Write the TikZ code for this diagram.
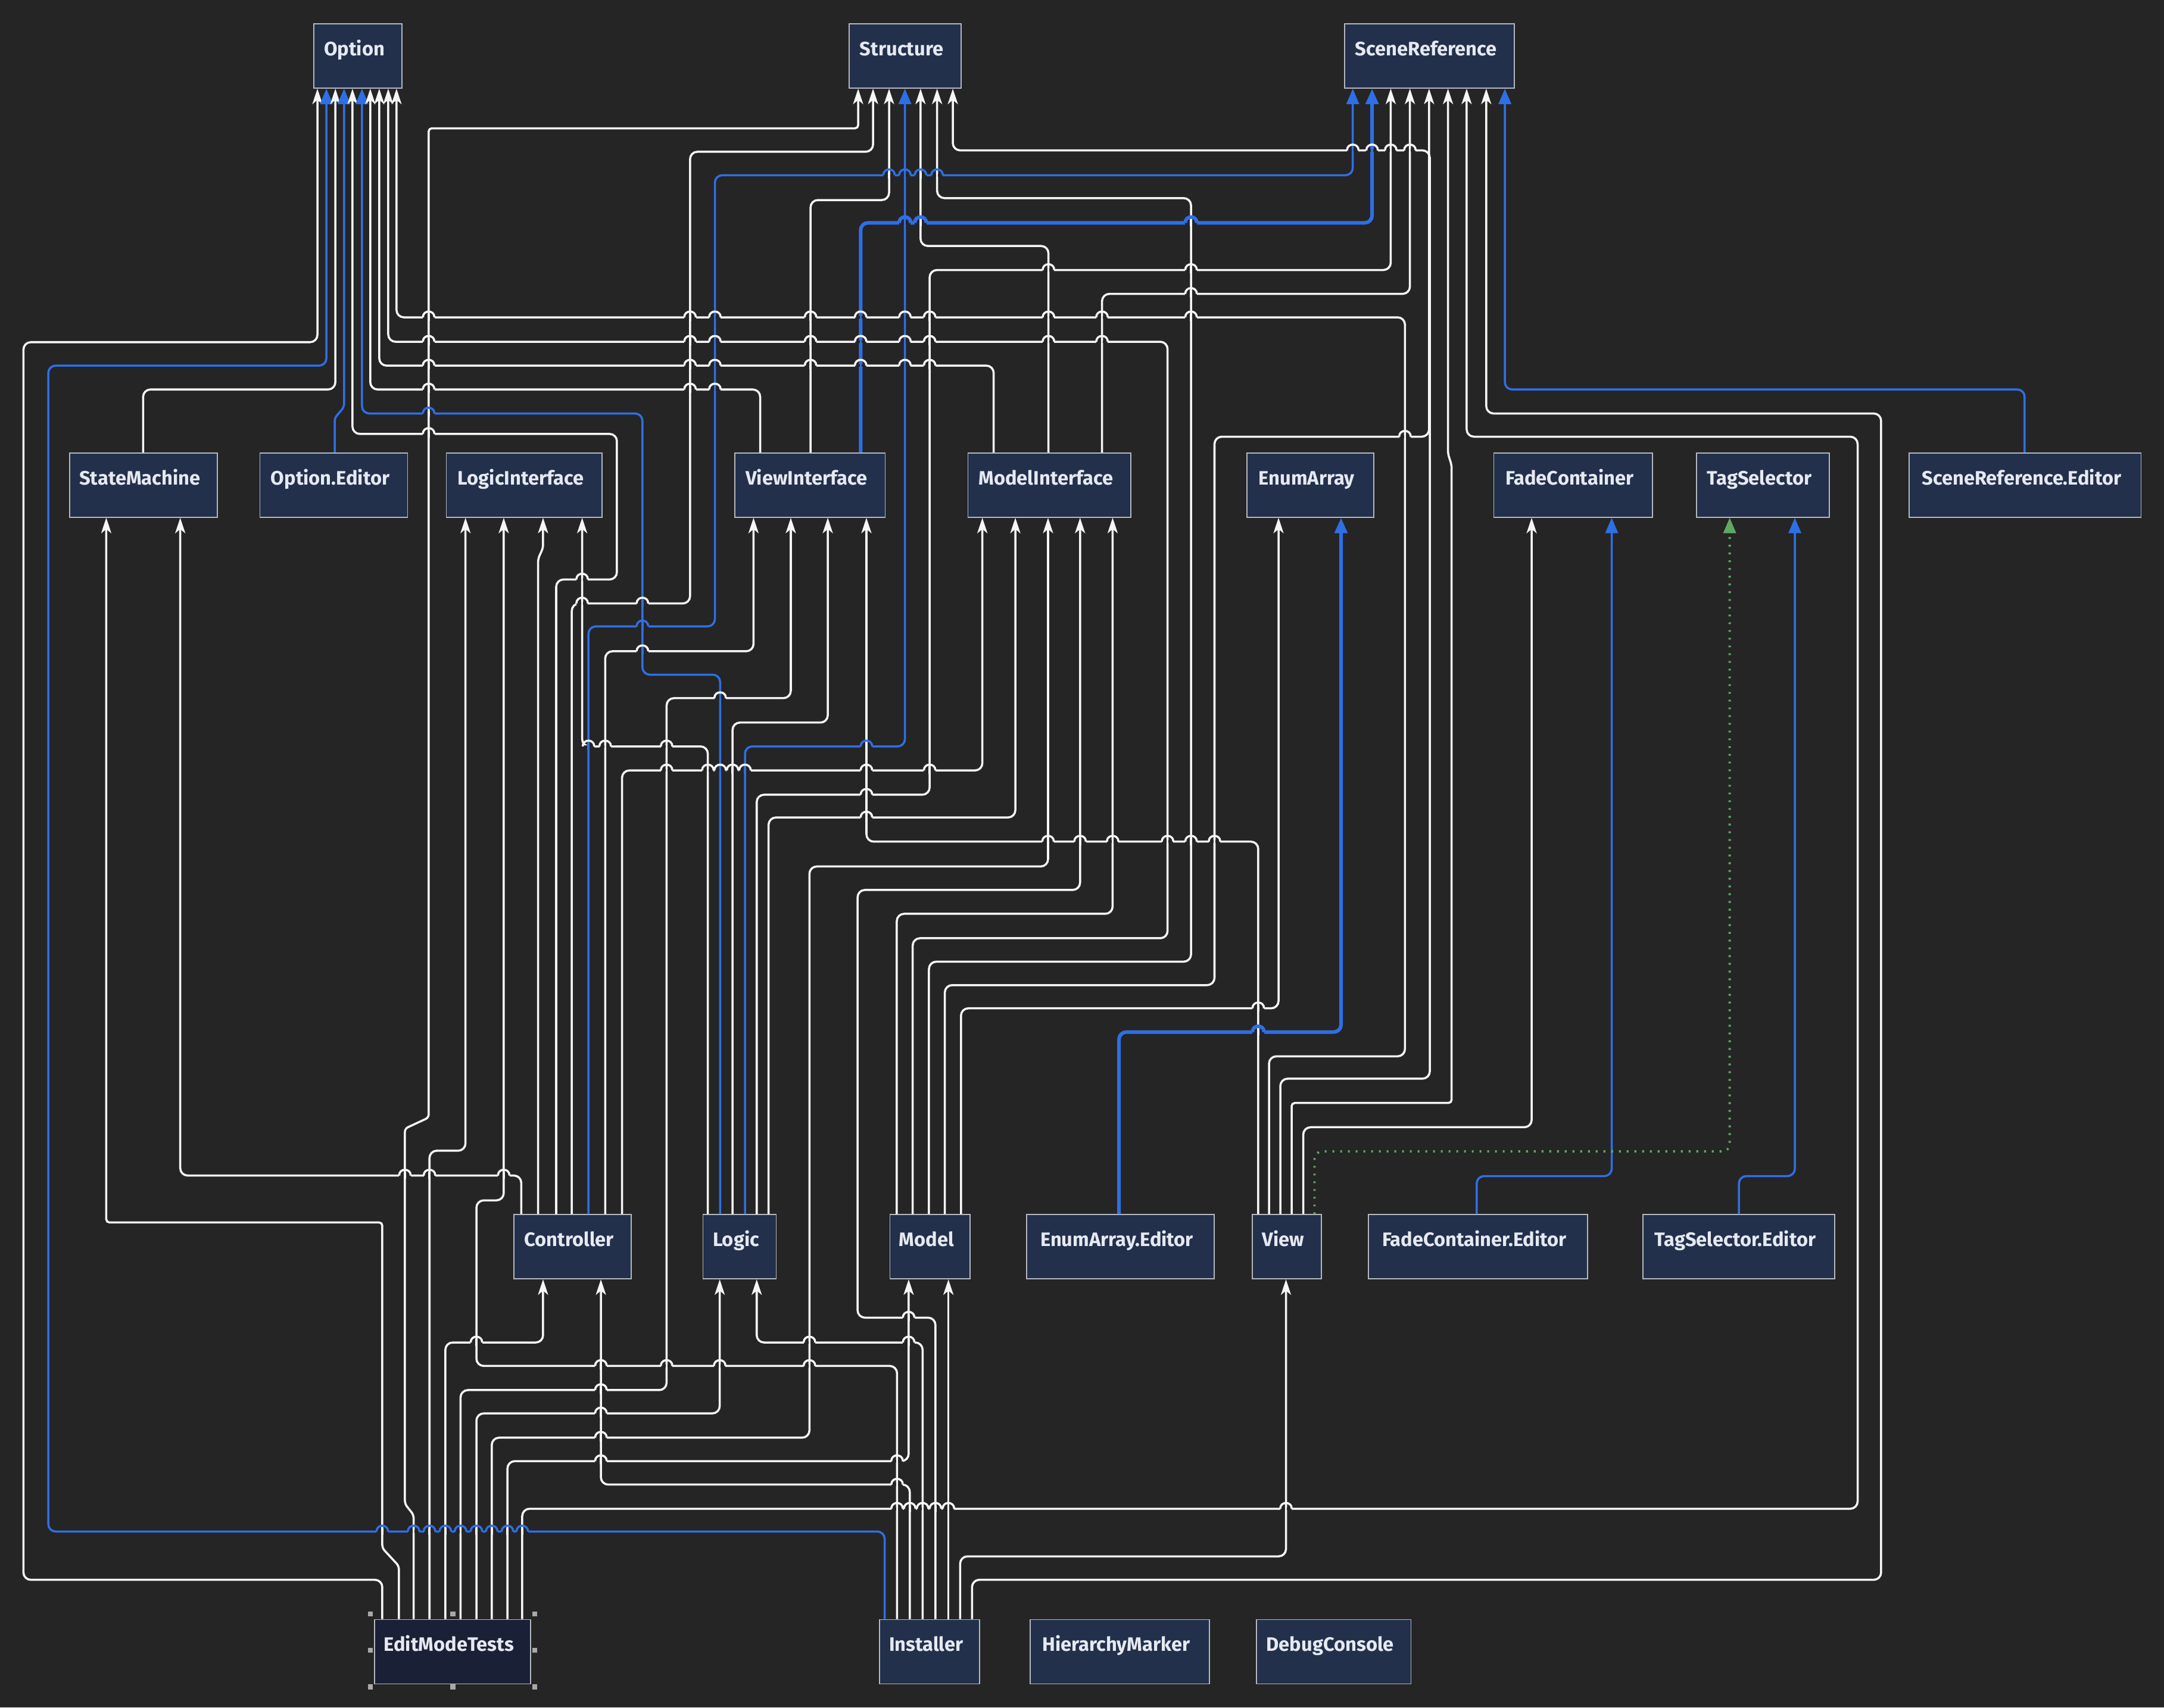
\documentclass[tikz,border=0pt]{standalone}
\usepackage{fontspec}
\setmainfont{Fira Sans}
\usetikzlibrary{arrows.meta}
\definecolor{bgc}{HTML}{252525}
\definecolor{boxfill}{HTML}{22304C}
\definecolor{selfill}{HTML}{1A2036}
\definecolor{boxline}{HTML}{B4B8C0}
\definecolor{txt}{HTML}{E6E9F0}
\definecolor{bl}{HTML}{2F6FE6}
\definecolor{gr}{HTML}{5FA863}
\definecolor{wl}{HTML}{F6F6F6}
\definecolor{hdl}{HTML}{A8A8A8}
\newcommand\hop[5]{%
  \draw[bgc, line width=#5+0.3pt] ({#1-4.2},#2) -- ({#1+4.2},#2);
  \draw[#4, line width=1pt] (#1,{#2-2.5}) -- (#1,{#2+2.5});
  \draw[#3, line width=#5] ({#1-4.2},#2) .. controls ({#1-4.2},{#2-5.6}) and ({#1+4.2},{#2-5.6}) .. ({#1+4.2},#2);
}
\newcommand\hw[2]{\hop{#1}{#2}{wl}{wl}{1pt}}
\newcommand\hwb[2]{\hop{#1}{#2}{wl}{bl}{1pt}}
\newcommand\hbw[2]{\hop{#1}{#2}{bl}{wl}{1pt}}
\newcommand\hbb[2]{\hop{#1}{#2}{bl}{bl}{1pt}}
\newcommand\hTw[2]{\hop{#1}{#2}{bl}{wl}{1.7pt}}
\newcommand\hTb[2]{\hop{#1}{#2}{bl}{bl}{1.7pt}}
\newcommand\lbl[1]{#1\kern0.12cm}
\begin{document}
\begin{tikzpicture}[x=0.023176cm, y=-0.023176cm,
  box/.style={draw=boxline, fill=boxfill, line width=0.5pt, text=txt,
    font=\bfseries\fontsize{9.3pt}{11pt}\selectfont, inner sep=0pt,
    text height=0.533cm, text depth=0.545cm, anchor=north west,
    minimum width={(#1)*0.023176cm}},
  wedge/.style={draw=wl, line width=1pt, rounded corners=3.5pt,
    -{Stealth[length=0.26cm,width=0.17cm,inset=0.07cm]}},
  bedge/.style={draw=bl, line width=1pt, rounded corners=3.5pt,
    -{Triangle[length=0.26cm,width=0.21cm]}},
  bthick/.style={bedge, line width=1.7pt},
  gedge/.style={draw=gr, line width=1.1pt, rounded corners=3.5pt,
    dash pattern=on 0.9pt off 2.8pt, -{Triangle[length=0.26cm,width=0.21cm]}},
  handle/.style={fill=hdl, draw=none}
]
\useasboundingbox (0,0) rectangle (1568,1237.5);
\fill[bgc] (0,0) rectangle (1568,1237.5);

% nodes
\node[box=64] (opt) at (227,17) {\lbl{Option}};
\node[box=81] (strc) at (615,17) {\lbl{Structure}};
\node[box=123] (sref) at (974,17) {\lbl{SceneReference}};
\node[box=107] (sm) at (50,328) {\lbl{StateMachine}};
\node[box=107] (oped) at (188,328) {\lbl{Option.Editor}};
\node[box=113] (lif) at (323,328) {\lbl{LogicInterface}};
\node[box=109] (vif) at (532,328) {\lbl{ViewInterface}};
\node[box=118] (mif) at (701,328) {\lbl{ModelInterface}};
\node[box=92] (earr) at (903,328) {\lbl{EnumArray}};
\node[box=115] (fcon) at (1082,328) {\lbl{FadeContainer}};
\node[box=96] (tsel) at (1229,328) {\lbl{TagSelector}};
\node[box=168] (sred) at (1383,328) {\lbl{SceneReference.Editor}};
\node[box=85] (ctrl) at (372,880) {\lbl{Controller}};
\node[box=53] (lgc) at (509,880) {\lbl{Logic}};
\node[box=58] (mdl) at (644.5,880) {\lbl{Model}};
\node[box=136] (eaed) at (743.5,880) {\lbl{EnumArray.Editor}};
\node[box=50] (view) at (907,880) {\lbl{View}};
\node[box=159] (fced) at (991,880) {\lbl{FadeContainer.Editor}};
\node[box=139] (tsed) at (1190,880) {\lbl{TagSelector.Editor}};
\node[box=113, fill=selfill] (emt) at (271,1173.5) {\lbl{EditModeTests}};
\node[box=72.5] (inst) at (637,1173.5) {\lbl{Installer}};
\node[box=130] (hmk) at (746,1173.5) {\lbl{HierarchyMarker}};
\node[box=112] (dcon) at (910,1173.5) {\lbl{DebugConsole}};

% selection handles
\foreach \hx in {268.3,328.2,387.4}{
  \foreach \hy in {1169.6,1222.6}{\fill[handle] ({\hx-1.8},{\hy-1.8}) rectangle ({\hx+1.8},{\hy+1.8});}}
\foreach \hx in {268.3,387.4}{\fill[handle] ({\hx-1.8},{1196-1.8}) rectangle ({\hx+1.8},{1196+1.8});}

% edges into Option
\draw[wedge] (emt.north -| 277,0) -- (277,1145) -- (17,1145) -- (17,248) -- (230,248) -- (opt.south -| 230,0);
\draw[bedge] (inst.north -| 641,0) -- (641,1110) -- (35,1110) -- (35,265) -- (236.5,265) -- (opt.south -| 236.5,0);
\draw[wedge] (sm.north -| 103.7,0) -- (103.7,282.3) -- (243,282.3) -- (opt.south -| 243,0);
\draw[bedge, rounded corners=1.5pt] (oped.north -| 242.5,0) -- (242.5,303) -- (249.3,295) -- (opt.south -| 249.3,0);
\draw[wedge] (ctrl.north -| 403,0) -- (403,420) -- (447,420) -- (447,314.5) -- (255.4,314.5) -- (opt.south -| 255.4,0);
\draw[bedge] (lgc.north -| 521.8,0) -- (521.8,489) -- (465.5,489) -- (465.5,299.7) -- (262.3,299.7) -- (opt.south -| 262.3,0);
\draw[wedge] (vif.north -| 550.8,0) -- (550.8,282.3) -- (268.3,282.3) -- (opt.south -| 268.3,0);
\draw[wedge] (mif.north -| 720,0) -- (720,265) -- (274.8,265) -- (opt.south -| 274.8,0);
\draw[wedge] (mdl.north -| 661.3,0) -- (661.3,680) -- (846,680) -- (846,247.7) -- (281.3,247.7) -- (opt.south -| 281.3,0);
\draw[wedge] (view.north -| 919.5,0) -- (919.5,765.6) -- (1018,765.6) -- (1018,230) -- (287.3,230) -- (opt.south -| 287.3,0);

% edges into Structure
\draw[wedge, rounded corners=1.5pt] (emt.north -| 299.7,0) -- (299.7,1098) -- (293.4,1090) -- (293.4,818) -- (310.6,810) -- (310.6,93) -- (621.8,93) -- (strc.south -| 621.8,0);
\draw[wedge] (ctrl.north -| 414.3,0) -- (414.3,437.4) -- (500,437.4) -- (500,110) -- (632.6,110) -- (strc.south -| 632.6,0);
\draw[wedge] (vif.north -| 587.3,0) -- (587.3,145) -- (644.2,145) -- (strc.south -| 644.2,0);
\draw[bedge] (lgc.north -| 539.8,0) -- (539.8,541) -- (655.7,541) -- (strc.south -| 655.7,0);
\draw[wedge] (mif.north -| 759.7,0) -- (759.7,178.3) -- (667,178.3) -- (strc.south -| 667,0);
\draw[wedge] (mdl.north -| 673.1,0) -- (673.1,697) -- (863,697) -- (863,143.6) -- (679,143.6) -- (strc.south -| 679,0);
\draw[wedge] (view.north -| 927.7,0) -- (927.7,781.8) -- (1036,781.8) -- (1036,109) -- (690.4,109) -- (strc.south -| 690.4,0);

% edges into SceneReference
\draw[bedge] (ctrl.north -| 426.4,0) -- (426.4,454) -- (518,454) -- (518,127) -- (980.2,127) -- (sref.south -| 980.2,0);
\draw[bthick] (vif.north -| 623.6,0) -- (623.6,161.5) -- (994.2,161.5) -- (sref.south -| 994.2,0);
\draw[wedge] (lgc.north -| 548.3,0) -- (548.3,576) -- (673.6,576) -- (673.6,195.7) -- (1007.7,195.7) -- (sref.south -| 1007.7,0);
\draw[wedge] (mif.north -| 798.5,0) -- (798.5,213) -- (1021.6,213) -- (sref.south -| 1021.6,0);
\draw[wedge] (mdl.north -| 684.6,0) -- (684.6,714) -- (880,714) -- (880,316.5) -- (1035.5,316.5) -- (sref.south -| 1035.5,0);
\draw[wedge, rounded corners=1.5pt] (view.north -| 935.9,0) -- (935.9,799.4) -- (1051.8,799.4) -- (1051.8,337) -- (1049.2,329) -- (sref.south -| 1049.2,0);
\draw[wedge] (emt.north -| 378.4,0) -- (378.4,1093.5) -- (1346,1093.5) -- (1346,316.5) -- (1062.7,316.5) -- (sref.south -| 1062.7,0);
\draw[wedge] (inst.north -| 704.3,0) -- (704.3,1145) -- (1363,1145) -- (1363,299.7) -- (1076.9,299.7) -- (sref.south -| 1076.9,0);
\draw[bedge] (sred.north -| 1467,0) -- (1467,282.3) -- (1090.4,282.3) -- (sref.south -| 1090.4,0);

% StateMachine
\draw[wedge, rounded corners=1.5pt] (emt.north -| 289,0) -- (289,1135) -- (277,1122) -- (277,886) -- (77,886) -- (sm.south -| 77,0);
\draw[wedge] (ctrl.north -| 377.7,0) -- (377.7,852) -- (130.6,852) -- (sm.south -| 130.6,0);

% LogicInterface
\draw[wedge] (emt.north -| 311.2,0) -- (311.2,834) -- (337.3,834) -- (lif.south -| 337.3,0);
\draw[wedge] (inst.north -| 650,0) -- (650,990) -- (345.2,990) -- (345.2,870) -- (365,870) -- (lif.south -| 365,0);
\draw[wedge, rounded corners=1.5pt] (ctrl.north -| 389.9,0) -- (389.9,405) -- (393.5,397) -- (lif.south -| 393.5,0);
\draw[wedge] (lgc.north -| 512.9,0) -- (512.9,541) -- (421.8,541) -- (lif.south -| 421.8,0);

% ViewInterface
\draw[wedge] (ctrl.north -| 438.5,0) -- (438.5,472) -- (546,472) -- (vif.south -| 546,0);
\draw[wedge] (emt.north -| 333.7,0) -- (333.7,1007.5) -- (483,1007.5) -- (483,506) -- (573,506) -- (vif.south -| 573,0);
\draw[wedge] (lgc.north -| 530.8,0) -- (530.8,523.7) -- (599.8,523.7) -- (vif.south -| 599.8,0);
\draw[wedge] (view.north -| 911.7,0) -- (911.7,610) -- (627.8,610) -- (vif.south -| 627.8,0);

% ModelInterface
\draw[wedge] (ctrl.north -| 450.7,0) -- (450.7,558.4) -- (711.8,558.4) -- (mif.south -| 711.8,0);
\draw[wedge] (lgc.north -| 556.9,0) -- (556.9,592.5) -- (735.7,592.5) -- (mif.south -| 735.7,0);
\draw[wedge] (emt.north -| 356.3,0) -- (356.3,1042) -- (586.5,1042) -- (586.5,628) -- (759.4,628) -- (mif.south -| 759.4,0);
\draw[wedge] (inst.north -| 677.8,0) -- (677.8,955) -- (621.4,955) -- (621.4,645) -- (782.6,645) -- (mif.south -| 782.6,0);
\draw[wedge] (mdl.north -| 649.8,0) -- (649.8,662.3) -- (806.2,662.3) -- (mif.south -| 806.2,0);

% Controller, Logic, Model, View
\draw[wedge] (emt.north -| 322.7,0) -- (322.7,973) -- (393.5,973) -- (ctrl.south -| 393.5,0);
\draw[wedge] (inst.north -| 659.2,0) -- (659.2,1076) -- (435.4,1076) -- (ctrl.south -| 435.4,0);
\draw[wedge] (emt.north -| 345.2,0) -- (345.2,1024.4) -- (521.5,1024.4) -- (lgc.south -| 521.5,0);
\draw[wedge] (inst.north -| 668.5,0) -- (668.5,973) -- (548.3,973) -- (lgc.south -| 548.3,0);
\draw[wedge] (emt.north -| 367.7,0) -- (367.7,1059) -- (658.4,1059) -- (mdl.south -| 658.4,0);
\draw[wedge] (inst.north -| 687.2,0) -- (mdl.south -| 687.2,0);
\draw[wedge] (inst.north -| 695.7,0) -- (695.7,1128) -- (931.8,1128) -- (view.south -| 931.8,0);

% EnumArray, FadeContainer, TagSelector
\draw[wedge] (mdl.north -| 696.3,0) -- (696.3,730.8) -- (926.4,730.8) -- (earr.south -| 926.4,0);
\draw[bthick] (eaed.north -| 810.8,0) -- (810.8,748) -- (971.7,748) -- (earr.south -| 971.7,0);
\draw[wedge] (view.north -| 944.3,0) -- (944.3,817) -- (1109.8,817) -- (fcon.south -| 1109.8,0);
\draw[bedge] (fced.north -| 1070,0) -- (1070,852.4) -- (1167.8,852.4) -- (fcon.south -| 1167.8,0);
\draw[gedge] (view.north -| 952.5,0) -- (952.5,834.5) -- (1253.3,834.5) -- (tsel.south -| 1253.3,0);
\draw[bedge] (tsed.north -| 1260,0) -- (1260,852.4) -- (1300.5,852.4) -- (tsel.south -| 1300.5,0);

% hops
\foreach \q in {277,299.7,311.2,322.7,333.7,345.2,356.3,367.7,378.4}{\hbw{\q}{1110}}
\hw{421.8}{420}
\hw{310.6}{314.5}
\hbw{310.6}{299.7}
\hw{310.6}{282.3}\hw{500}{282.3}\hwb{518}{282.3}
\foreach \y in {265,247.7,230}{\hw{310.6}{\y}\hw{500}{\y}\hwb{518}{\y}\hw{587.3}{\y}\hwb{623.6}{\y}\hwb{655.7}{\y}\hw{673.6}{\y}}
\foreach \y in {247.7,230}{\hw{759.7}{\y}\hw{798.5}{\y}}
\hw{863}{230}
\hw{421.8}{437.4}\hwb{465.5}{437.4}
\hbw{627.8}{541}
\hwb{980.2}{109}\hwb{994.2}{109}\hw{1007.7}{109}\hw{1021.6}{109}
\hbb{465.5}{454}
\hbw{644.2}{127}\hbb{655.7}{127}\hbw{667}{127}\hbw{679}{127}
\hTb{655.7}{161.5}\hTw{667}{161.5}\hTw{863}{161.5}
\hw{627.8}{576}
\hw{759.7}{195.7}\hw{863}{195.7}
\hw{863}{213}
\hw{1018}{316.5}
\foreach \q in {650,659.2,668.5,677.8,687.2,931.8}{\hw{\q}{1093.5}}
\hw{293.4}{852}\hw{311.2}{852}\hw{365}{852}
\hw{435.4}{990}\hw{483}{990}\hw{521.5}{990}\hw{586.5}{990}
\hwb{426.4}{541}\hw{438.5}{541}\hw{483}{541}
\hwb{465.5}{472}
\hw{435.4}{1007.5}
\hwb{521.8}{506}
\foreach \q in {759.4,782.6,806.2,846,863,880}{\hw{\q}{610}}
\hw{483}{558.4}\hw{512.9}{558.4}\hwb{521.8}{558.4}\hw{530.8}{558.4}\hwb{539.8}{558.4}\hw{627.8}{558.4}\hw{673.6}{558.4}
\hw{627.8}{592.5}
\hw{435.4}{1042}
\hw{658.4}{955}
\hw{345.2}{973}
\hw{650}{1076}
\hw{435.4}{1024.4}
\hw{586.5}{973}\hw{658.4}{973}
\hw{435.4}{1059}\hw{650}{1059}
\hw{911.7}{730.8}
\hTw{911.7}{748}
\end{tikzpicture}
\end{document}
